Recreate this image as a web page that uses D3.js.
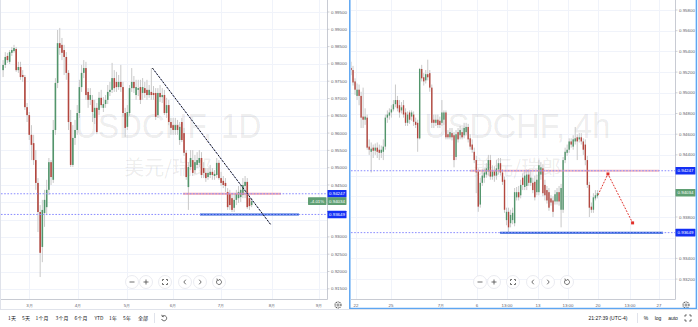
<!DOCTYPE html>
<html>
<head>
<meta charset="utf-8">
<script src="https://cdn.jsdelivr.net/npm/d3@7"></script>
<style>
  body { margin: 0; background: #fff; }
  svg { display: block; font-family: "Liberation Sans", Arial, sans-serif; }
</style>
</head>
<body>
<svg id="chart" width="698" height="327"></svg>
<script>
// USDCHF daily candles, [open, high, low, close]
var dailyBars = [
  [.9782,.9811,.9762,.9797],[.9797,.9834,.9788,.9820],[.9823,.9832,.9803,.9811],[.9806,.9840,.9800,.9834],
  [.9832,.9849,.9823,.9840],[.9837,.9855,.9832,.9846],[.9843,.9849,.9777,.9782],[.9782,.9806,.9774,.9791],
  [.9791,.9806,.9754,.9762],[.9768,.9782,.9748,.9762],[.9762,.9768,.9667,.9675],[.9675,.9687,.9632,.9652],
  [.9652,.9661,.9580,.9595],[.9595,.9623,.9522,.9566],[.9571,.9595,.9508,.9522],[.9522,.9551,.9436,.9456],
  [.9456,.9470,.9314,.9372],[.9372,.9392,.9184,.9254],[.9271,.9407,.9227,.9378],[.9369,.9436,.9329,.9407],
  [.9386,.9465,.9363,.9436],[.9436,.9528,.9421,.9516],[.9516,.9522,.9450,.9473],[.9465,.9638,.9456,.9609],
  [.9609,.9759,.9595,.9745],[.9745,.9898,.9730,.9860],[.9860,.9904,.9826,.9846],[.9855,.9875,.9811,.9832],
  [.9840,.9855,.9768,.9820],[.9820,.9834,.9754,.9774],[.9774,.9782,.9609,.9632],[.9632,.9667,.9502,.9508],
  [.9508,.9623,.9502,.9586],[.9586,.9638,.9566,.9609],[.9609,.9681,.9595,.9658],[.9658,.9754,.9644,.9733],
  [.9733,.9797,.9719,.9774],[.9774,.9811,.9759,.9788],[.9788,.9806,.9696,.9710],[.9719,.9730,.9673,.9696],
  [.9696,.9730,.9681,.9710],[.9696,.9710,.9632,.9661],[.9644,.9696,.9626,.9673],[.9673,.9687,.9597,.9603],
  [.9667,.9719,.9652,.9702],[.9702,.9725,.9673,.9681],[.9673,.9704,.9661,.9684],[.9684,.9710,.9673,.9696],
  [.9696,.9739,.9684,.9719],[.9719,.9748,.9707,.9725],[.9725,.9803,.9716,.9759],[.9759,.9782,.9719,.9730],
  [.9748,.9777,.9719,.9733],[.9733,.9768,.9725,.9748],[.9748,.9797,.9719,.9733],[.9733,.9748,.9647,.9658],
  [.9658,.9673,.9589,.9615],[.9618,.9681,.9609,.9661],[.9658,.9739,.9650,.9730],[.9730,.9788,.9719,.9748],
  [.9748,.9765,.9716,.9730],[.9710,.9754,.9696,.9733],[.9725,.9754,.9707,.9730],[.9733,.9754,.9684,.9696],
  [.9716,.9759,.9696,.9733],[.9730,.9748,.9702,.9716],[.9725,.9754,.9696,.9710],[.9710,.9739,.9702,.9725],
  [.9719,.9788,.9696,.9710],[.9716,.9736,.9696,.9710],[.9716,.9730,.9638,.9647],[.9652,.9730,.9644,.9716],
  [.9716,.9739,.9690,.9704],[.9704,.9730,.9687,.9710],[.9710,.9725,.9652,.9658],[.9658,.9702,.9644,.9681],
  [.9681,.9696,.9623,.9632],[.9632,.9644,.9595,.9615],[.9623,.9644,.9595,.9609],[.9609,.9644,.9595,.9623],
  [.9623,.9638,.9595,.9609],[.9580,.9632,.9566,.9618],[.9632,.9644,.9574,.9580],[.9600,.9615,.9534,.9543],
  [.9543,.9551,.9465,.9473],[.9444,.9516,.9378,.9502],[.9502,.9551,.9493,.9528],[.9522,.9551,.9476,.9485],
  [.9493,.9537,.9482,.9516],[.9508,.9545,.9499,.9522],[.9514,.9551,.9502,.9528],[.9528,.9545,.9470,.9479],
  [.9499,.9516,.9470,.9485],[.9485,.9499,.9459,.9470],[.9473,.9499,.9465,.9485],[.9479,.9508,.9470,.9488],
  [.9488,.9499,.9465,.9479],[.9476,.9493,.9465,.9482],[.9479,.9528,.9470,.9514],[.9514,.9522,.9465,.9470],
  [.9470,.9488,.9447,.9456],[.9462,.9476,.9441,.9450],[.9456,.9470,.9430,.9447],[.9430,.9441,.9378,.9386],
  [.9424,.9436,.9378,.9392],[.9412,.9427,.9372,.9378],[.9384,.9424,.9372,.9407],[.9407,.9436,.9392,.9424],
  [.9412,.9447,.9398,.9430],[.9415,.9453,.9401,.9436],[.9421,.9470,.9412,.9450],[.9447,.9476,.9412,.9459],
  [.9459,.9470,.9381,.9386],[.9412,.9421,.9378,.9389],[.9392,.9412,.9386,.9403]
];

// USDCHF 4h candles, [open, high, low, close]
var h4Bars = [
  [.9524,.9530,.9517,.9522],[.9522,.9526,.9507,.9510],[.9511,.9514,.9498,.9503],[.9497,.9509,.9493,.9503],
  [.9503,.9508,.9488,.9497],[.9497,.9501,.9466,.9476],[.9477,.9505,.9466,.9474],[.9474,.9485,.9469,.9477],
  [.9476,.9479,.9445,.9447],[.9448,.9455,.9440,.9445],[.9443,.9452,.9423,.9446],[.9447,.9450,.9437,.9444],
  [.9444,.9451,.9440,.9447],[.9447,.9452,.9437,.9443],[.9445,.9450,.9435,.9442],[.9442,.9449,.9437,.9445],
  [.9443,.9455,.9435,.9448],[.9448,.9479,.9445,.9476],[.9476,.9483,.9471,.9479],[.9478,.9485,.9474,.9481],
  [.9481,.9488,.9476,.9484],[.9484,.9493,.9482,.9489],[.9489,.9508,.9486,.9493],[.9493,.9497,.9482,.9485],
  [.9488,.9493,.9476,.9481],[.9483,.9491,.9480,.9486],[.9488,.9493,.9476,.9479],[.9481,.9485,.9468,.9471],
  [.9471,.9482,.9468,.9479],[.9481,.9483,.9470,.9474],[.9477,.9483,.9473,.9481],[.9479,.9482,.9468,.9472],
  [.9472,.9476,.9466,.9469],[.9471,.9474,.9443,.9456],[.9456,.9524,.9455,.9523],[.9523,.9527,.9511,.9514],
  [.9515,.9519,.9507,.9511],[.9512,.9522,.9509,.9518],[.9518,.9532,.9512,.9515],[.9519,.9522,.9501,.9505],
  [.9505,.9508,.9466,.9471],[.9474,.9479,.9466,.9471],[.9471,.9479,.9468,.9474],[.9474,.9479,.9466,.9469],
  [.9473,.9477,.9466,.9469],[.9471,.9493,.9468,.9481],[.9474,.9483,.9469,.9481],[.9481,.9483,.9455,.9457],
  [.9460,.9464,.9455,.9457],[.9457,.9466,.9455,.9462],[.9461,.9466,.9454,.9457],[.9459,.9462,.9428,.9435],
  [.9438,.9464,.9435,.9460],[.9462,.9466,.9452,.9455],[.9459,.9468,.9455,.9464],[.9462,.9466,.9455,.9457],
  [.9459,.9471,.9456,.9466],[.9462,.9471,.9459,.9467],[.9467,.9470,.9452,.9455],[.9456,.9460,.9445,.9448],
  [.9450,.9455,.9442,.9445],[.9443,.9447,.9432,.9435],[.9435,.9439,.9403,.9423],[.9424,.9427,.9385,.9390],
  [.9392,.9418,.9389,.9413],[.9413,.9426,.9410,.9420],[.9418,.9427,.9413,.9423],[.9421,.9432,.9418,.9427],
  [.9424,.9440,.9420,.9435],[.9435,.9440,.9416,.9419],[.9419,.9430,.9416,.9424],[.9424,.9429,.9414,.9420],
  [.9420,.9435,.9416,.9427],[.9426,.9437,.9421,.9432],[.9432,.9437,.9420,.9423],[.9423,.9426,.9411,.9414],
  [.9416,.9419,.9384,.9387],[.9377,.9389,.9372,.9385],[.9385,.9389,.93649,.9370],[.9374,.9387,.9370,.9382],
  [.9377,.9389,.9373,.9384],[.9374,.9408,.9371,.9404],[.9399,.9409,.9396,.9404],[.9404,.9410,.9396,.9399],
  [.9401,.9416,.9398,.9411],[.9418,.9422,.9406,.9411],[.9409,.9424,.9406,.9420],[.9410,.9426,.9406,.9421],
  [.9421,.9426,.9410,.9413],[.9413,.9424,.9410,.9418],[.9413,.9418,.9403,.9406],[.9414,.9420,.9396,.9399],
  [.9404,.9421,.9401,.9416],[.9404,.9435,.9401,.9430],[.9421,.9433,.9416,.9428],[.9427,.9431,.9400,.9403],
  [.9411,.9416,.9396,.9401],[.9406,.9410,.9393,.9396],[.9404,.9408,.9386,.9389],[.9398,.9401,.9391,.9394],
  [.9396,.9400,.9380,.9385],[.9395,.9406,.9392,.9402],[.9395,.9408,.9392,.9404],[.9404,.9410,.9391,.9395],
  [.9387,.9412,.9370,.9408],[.9387,.9438,.9384,.9435],[.9435,.9447,.9432,.9443],[.9442,.9450,.9439,.9445],
  [.9445,.9456,.9442,.9453],[.9453,.9456,.9447,.9450],[.9448,.9459,.9445,.9455],[.9453,.9467,.9450,.9456],
  [.9457,.9460,.9435,.9453],[.9455,.9461,.9452,.9457],[.9457,.9461,.9450,.9453],[.9453,.9456,.9440,.9445],
  [.9450,.9455,.9430,.9435],[.9435,.9439,.9408,.9411],[.9411,.9414,.9380,.9389],[.9390,.9394,.9384,.9387],
  [.9387,.9403,.9384,.9399],[.9398,.9406,.9396,.9401],[.9400,.9406,.9398,.9403]
];

var dailyPriceTicks = [0.995,0.99,0.985,0.98,0.975,0.97,0.965,0.96,0.955,0.95,0.945,0.94,0.935,0.93,0.925,0.92,0.915];
var h4PriceTicks = [0.958,0.956,0.954,0.952,0.95,0.948,0.946,0.944,0.942,0.94,0.938,0.936,0.934,0.932];

var dailyTimeLabels = ["3月","4月","5月","6月","7月","8月","9月"];
var dailyTimeAt = [12.1, 34.4, 56.8, 77.9, 100, 123.3, 144.9];
var h4TimeLabels = ["22","25","7月","6","13:00","13","13:00","20","13:00","27"];
var h4TimeAt = [2.5, 19.8, 44.6, 62.4, 77.2, 92.6, 107.4, 122.3, 138.1, 152.5];

var resistance = 0.94247, support = 0.93649, lastPrice = 0.94034, changeText = "-4.01%";
var tagPrices = [resistance, lastPrice, support];

// drawings: [bar index, price]
var dailyTrend = [[68.5, 0.9788], [122.7, 0.9336]];
var dailyResSpan = [82.5, 127.5], dailySupSpan = [90.3, 135.7];
var h4ResSpan = [59, 152.5], h4SupSpan = [73.8, 154.5];
var h4Forecast = [[122.3, 0.94013], [127.2, 0.94216], [139.4, 0.93743]];

var UP = "#52956b", DOWN = "#b3473f", WICK = "#c9c9c9", GRID = "#f0f3fa";
var TAG_BLUE = "#1430f5", TAG_GREEN = "#5f9f73", AXIS_TXT = "#5d606b";

var svg = d3.select("#chart");
var defs = svg.append("defs");

function fmt(v){ return v.toFixed(5); }

function drawPanel(p){
	var x = d3.scaleLinear().domain(p.xDomain).range(p.xRange);
	var y = d3.scaleLinear().domain(p.yDomain).range(p.yRange);

	defs.append("clipPath").attr("id", p.id + "-clip").append("rect")
		.attr("x", p.left).attr("y", 0)
		.attr("width", p.axisX - p.left).attr("height", p.bottom);

	var g = svg.append("g");
	var plot = g.append("g").attr("clip-path", "url(#" + p.id + "-clip)");

	plot.selectAll(".hgrid").data(p.priceTicks).enter().append("line")
		.attr("x1", p.left).attr("x2", p.axisX)
		.attr("y1", function(d){ return Math.round(y(d)) + 0.5; })
		.attr("y2", function(d){ return Math.round(y(d)) + 0.5; })
		.attr("stroke", GRID);
	plot.selectAll(".vgrid").data(p.timeAt).enter().append("line")
		.attr("x1", function(d){ return Math.round(x(d)) + 0.5; })
		.attr("x2", function(d){ return Math.round(x(d)) + 0.5; })
		.attr("y1", 0).attr("y2", p.bottom)
		.attr("stroke", GRID);

	// watermark
	var cx = (p.left + p.axisX) / 2 + 4;
	plot.append("text").text(p.symbol)
		.attr("x", cx).attr("y", 138).attr("text-anchor", "middle")
		.attr("font-size", 35).attr("textLength", 186).attr("lengthAdjust", "spacingAndGlyphs")
		.attr("fill", "rgba(0,0,0,0.085)");
	plot.append("text").text("美元/瑞郎")
		.attr("x", cx).attr("y", 175).attr("text-anchor", "middle")
		.attr("font-family", "Noto Sans CJK SC").attr("font-size", 20)
		.attr("fill", "rgba(0,0,0,0.085)");

	// candles
	var bw = p.bodyWidth;
	var c = plot.selectAll(".candle").data(p.bars).enter().append("g");
	c.append("line")
		.attr("x1", function(d, i){ return x(i); }).attr("x2", function(d, i){ return x(i); })
		.attr("y1", function(d){ return y(d[1]); }).attr("y2", function(d){ return y(d[2]); })
		.attr("stroke", WICK).attr("stroke-width", 1);
	c.append("rect")
		.attr("x", function(d, i){ return x(i) - bw / 2; })
		.attr("y", function(d){ return y(Math.max(d[0], d[3])); })
		.attr("width", bw)
		.attr("height", function(d){ return Math.max(0.8, Math.abs(y(d[0]) - y(d[3]))); })
		.attr("fill", function(d){ return d[3] >= d[0] ? UP : DOWN; });

	// axes
	g.append("line").attr("x1", p.axisX).attr("x2", p.axisX).attr("y1", 0).attr("y2", p.bottom + 0.5)
		.attr("stroke", "#c8cbd3").attr("stroke-width", 1);
	g.append("line").attr("x1", p.left).attr("x2", p.axisX).attr("y1", p.bottom + 0.5).attr("y2", p.bottom + 0.5)
		.attr("stroke", "#c8cbd3").attr("stroke-width", 1);

	// tick labels hidden where a price tag sits on top of them
	var shown = p.priceTicks.filter(function(d){
		return tagPrices.every(function(t){ return Math.abs(y(d) - y(t)) >= 6; });
	});
	var pt = g.selectAll(".ptick").data(shown).enter().append("g")
		.attr("transform", function(d){ return "translate(" + p.axisX + "," + y(d) + ")"; });
	pt.append("line").attr("x1", 0).attr("x2", 2).attr("stroke", "#b2b5be").attr("stroke-width", 0.6);
	pt.append("text").text(fmt)
		.attr("x", 3.5).attr("dy", "0.35em").attr("font-size", 4.4).attr("fill", AXIS_TXT);

	g.selectAll(".tlabel").data(p.timeLabels).enter().append("text")
		.text(function(d){ return d; })
		.attr("x", function(d, i){ return x(p.timeAt[i]); })
		.attr("y", p.bottom + 6.2).attr("dy", "0.35em")
		.attr("text-anchor", "middle").attr("font-size", 4.4).attr("fill", AXIS_TXT);

	// gear in the corner
	var gx = p.axisX + 10.5, gy = p.bottom + 6;
	g.append("circle").attr("cx", gx).attr("cy", gy).attr("r", 3).attr("fill", "none")
		.attr("stroke", "#555").attr("stroke-width", 1.1).attr("stroke-dasharray", "1.2,0.7");
	g.append("circle").attr("cx", gx).attr("cy", gy).attr("r", 1.1).attr("fill", "none")
		.attr("stroke", "#555").attr("stroke-width", 0.7);

	return { x: x, y: y, g: g, plot: plot, p: p };
}

function levelLine(panel, price){
	panel.plot.append("line")
		.attr("x1", panel.p.left).attr("x2", panel.p.axisX)
		.attr("y1", panel.y(price)).attr("y2", panel.y(price))
		.attr("stroke", "#8a8cff").attr("stroke-width", 1).attr("stroke-dasharray", "1.6,1.6");
}

function spanLine(panel, span, price, color, width, opacity){
	panel.plot.append("line")
		.attr("x1", panel.x(span[0])).attr("x2", panel.x(span[1]))
		.attr("y1", panel.y(price)).attr("y2", panel.y(price))
		.attr("stroke", color).attr("stroke-width", width).attr("opacity", opacity);
}

function priceTag(panel, price, text, color, xPos, w){
	var yy = panel.y(price);
	panel.g.append("rect").attr("x", xPos).attr("y", yy - 3.8).attr("width", w).attr("height", 7.6)
		.attr("rx", 0.6).attr("fill", color);
	panel.g.append("text").text(text).attr("x", xPos + w / 2).attr("y", yy).attr("dy", "0.35em")
		.attr("text-anchor", "middle").attr("font-size", 4.4).attr("fill", "#fff");
}

function navButtons(x0, yy){
	var offs = [0, 14, 33, 53, 68, 87];
	var nav = svg.append("g").attr("fill", "none").attr("stroke", "#4a4a4a").attr("stroke-width", 0.8);
	offs.forEach(function(o){
		nav.append("circle").attr("cx", x0 + o).attr("cy", yy).attr("r", 6.5)
			.attr("fill", "#fff").attr("stroke", "#e4e6ec");
	});
	var icons = [
		"M-2.5,0H2.5",
		"M-2.5,0H2.5M0,-2.5V2.5",
		"M-2.5,-1V-2.5H-1M1,-2.5H2.5V-1M2.5,1V2.5H1M-1,2.5H-2.5V1",
		"M0.8,-2.3L-1.2,0L0.8,2.3",
		"M-0.8,-2.3L1.2,0L-0.8,2.3",
		"M-1.6,-1.9A2.5,2.5 0 1 0 0,-2.5M-1.6,-1.9L-2.1,-3.4M-1.6,-1.9L-0.1,-1.6"
	];
	icons.forEach(function(d, i){
		nav.append("path").attr("d", d).attr("transform", "translate(" + (x0 + offs[i]) + "," + yy + ")");
	});
}

// ---- left panel (1D)
var left = drawPanel({
	id: "d1", left: 1, axisX: 327.5, bottom: 299,
	xDomain: [0, 145], xRange: [3.1, 3.1 + 145 * 2.18],
	yDomain: [0.995, 0.915], yRange: [12, 288.8],
	priceTicks: dailyPriceTicks, timeLabels: dailyTimeLabels, timeAt: dailyTimeAt,
	bars: dailyBars, bodyWidth: 1.6, symbol: "USDCHF, 1D"
});
spanLine(left, dailyResSpan, resistance, "#f08a96", 2, 0.75);
spanLine(left, dailySupSpan, support, "#2a5fd6", 2, 1);
levelLine(left, resistance);
levelLine(left, support);
var trendPath = d3.line().x(function(d){ return left.x(d[0]); }).y(function(d){ return left.y(d[1]); });
left.plot.append("path").attr("d", trendPath(dailyTrend)).attr("fill", "none")
	.attr("stroke", "#6a7ad8").attr("stroke-width", 0.8).attr("opacity", 0.6);
left.plot.append("path").attr("d", trendPath(dailyTrend)).attr("fill", "none")
	.attr("stroke", "#111").attr("stroke-width", 1).attr("stroke-dasharray", "2,1.4");
priceTag(left, resistance, fmt(resistance), TAG_BLUE, 327.5, 19);
priceTag(left, lastPrice, changeText, TAG_GREEN, 308, 18.5);
priceTag(left, lastPrice, fmt(lastPrice), TAG_GREEN, 327.5, 19);
priceTag(left, support, fmt(support), TAG_BLUE, 327.5, 19);
navButtons(132, 282);

// ---- right panel (4h)
var right = drawPanel({
	id: "h4", left: 351, axisX: 675.5, bottom: 299,
	xDomain: [0, 150], xRange: [351, 351 + 150 * 2.02],
	yDomain: [0.958, 0.932], yRange: [10, 279.1],
	priceTicks: h4PriceTicks, timeLabels: h4TimeLabels, timeAt: h4TimeAt,
	bars: h4Bars, bodyWidth: 1.4, symbol: "USDCHF, 4h"
});
spanLine(right, h4ResSpan, resistance, "#f08a96", 1.8, 0.6);
spanLine(right, h4SupSpan, support, "#2a5fd6", 2, 1);
levelLine(right, resistance);
levelLine(right, support);
var fcPath = d3.line().x(function(d){ return right.x(d[0]); }).y(function(d){ return right.y(d[1]); });
right.plot.append("path").attr("d", fcPath(h4Forecast)).attr("fill", "none")
	.attr("stroke", "#e0302a").attr("stroke-width", 1).attr("stroke-dasharray", "1.8,1.4");
right.plot.selectAll(".fcpt").data(h4Forecast.slice(1)).enter().append("rect")
	.attr("x", function(d){ return right.x(d[0]) - 1.5; })
	.attr("y", function(d){ return right.y(d[1]) - 1.5; })
	.attr("width", 3).attr("height", 3).attr("fill", "#e0302a");
priceTag(right, resistance, fmt(resistance), TAG_BLUE, 675.5, 20);
priceTag(right, lastPrice, fmt(lastPrice), TAG_GREEN, 675.5, 20);
priceTag(right, support, fmt(support), TAG_BLUE, 675.5, 20);
navButtons(480, 282);

// selected panel frame
svg.append("rect").attr("x", 349.8).attr("y", -2).attr("width", 346.6).attr("height", 310.5)
	.attr("fill", "none").attr("stroke", "#5ea6f2").attr("stroke-width", 1.5);
svg.append("line").attr("x1", 0.5).attr("x2", 0.5).attr("y1", 0).attr("y2", 309)
	.attr("stroke", "#dfe2ea");

// ---- bottom toolbar
var bar = svg.append("g").attr("font-size", 5).attr("fill", "#131722");
svg.append("line").attr("x1", 0).attr("x2", 698).attr("y1", 309.5).attr("y2", 309.5).attr("stroke", "#e0e3eb");
var ranges = ["1天","5天","1个月","3个月","6个月","YTD","1年","5年","全部"];
var rangeX = [12, 26, 42, 62, 81, 99, 113, 127, 143];
bar.selectAll(".range").data(ranges).enter().append("text")
	.text(function(d){ return d; })
	.attr("x", function(d, i){ return rangeX[i]; }).attr("y", 318).attr("dy", "0.35em")
	.attr("text-anchor", "middle").attr("font-family", "Noto Sans CJK SC, Liberation Sans");
svg.append("line").attr("x1", 154.5).attr("x2", 154.5).attr("y1", 313).attr("y2", 323).attr("stroke", "#e0e3eb");
svg.append("path").attr("d", "M-1.8,-1.6A2.6,2.6 0 1 1 -2.4,1M-1.8,-1.6L-2.2,-3.2M-1.8,-1.6L-0.2,-1.3")
	.attr("transform", "translate(164,318)").attr("fill", "none").attr("stroke", "#444").attr("stroke-width", 0.8);

bar.append("text").text("21:27:39 (UTC-4)").attr("x", 608).attr("y", 318).attr("dy", "0.35em").attr("text-anchor", "middle");
svg.append("line").attr("x1", 637.5).attr("x2", 637.5).attr("y1", 313).attr("y2", 323).attr("stroke", "#e0e3eb");
var opts = ["%", "log", "auto"], optX = [646, 658, 673];
bar.selectAll(".opt").data(opts).enter().append("text")
	.text(function(d){ return d; })
	.attr("x", function(d, i){ return optX[i]; }).attr("y", 318).attr("dy", "0.35em").attr("text-anchor", "middle");
svg.append("path").attr("d", "M-3,-1.2V-3H-1.2M1.2,-3H3V-1.2M3,1.2V3H1.2M-1.2,3H-3V1.2")
	.attr("transform", "translate(688,318)").attr("fill", "none").attr("stroke", "#444").attr("stroke-width", 0.8);
</script>
</body>
</html>
